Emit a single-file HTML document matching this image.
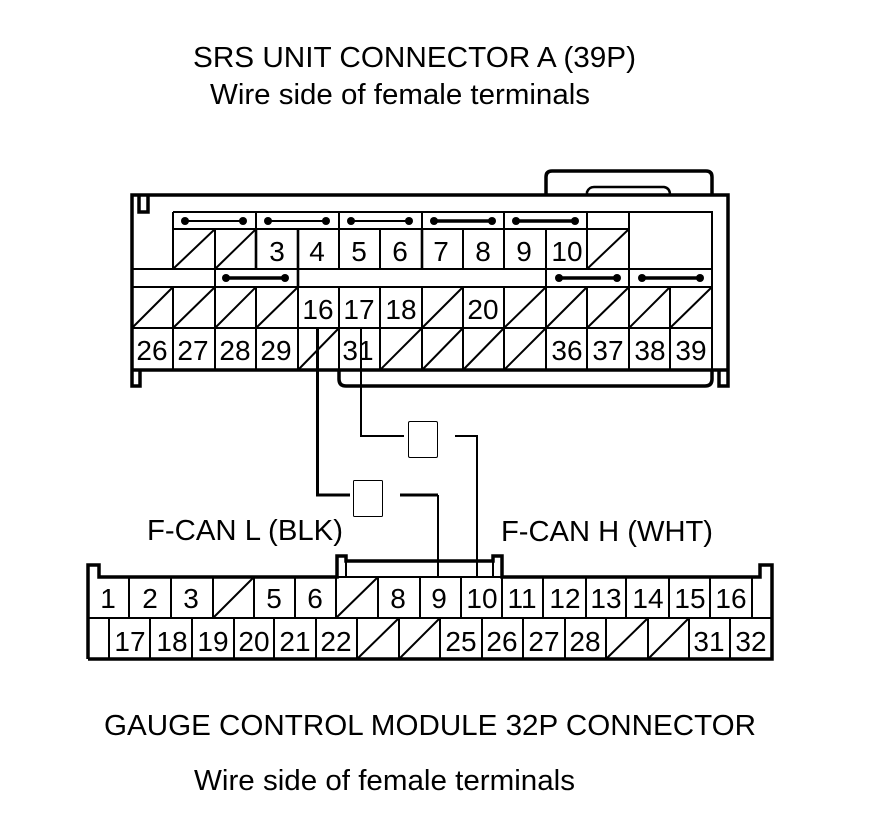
<!DOCTYPE html>
<html><head><meta charset="utf-8"><style>
html,body{margin:0;padding:0;background:#fff}
svg{display:block}
text{font-family:"Liberation Sans",Arial,sans-serif;fill:#000}
.n{font-size:28px;text-anchor:middle}
.t{font-size:29px}
.l{fill:none;stroke:#000;stroke-width:2}
.k{fill:none;stroke:#000;stroke-width:3.5}
.w{fill:none;stroke:#000;stroke-width:3}
.v{fill:none;stroke:#000;stroke-width:2}
.j{stroke:#000;stroke-width:2}
.jk{stroke:#000;stroke-width:3.5}
</style></head><body>
<svg width="880" height="838" viewBox="0 0 880 838" xmlns="http://www.w3.org/2000/svg">
<rect width="880" height="838" fill="#fff"/>
<text class="t" x="193" y="67" textLength="443" lengthAdjust="spacingAndGlyphs">SRS UNIT CONNECTOR A (39P)</text>
<text class="t" x="210" y="104" textLength="380" lengthAdjust="spacingAndGlyphs">Wire side of female terminals</text>
<text class="t" x="147" y="540" textLength="196" lengthAdjust="spacingAndGlyphs">F-CAN L (BLK)</text>
<text class="t" x="501" y="541" textLength="212" lengthAdjust="spacingAndGlyphs">F-CAN H (WHT)</text>
<text class="t" x="104" y="735" textLength="652" lengthAdjust="spacingAndGlyphs">GAUGE CONTROL MODULE 32P CONNECTOR</text>
<text class="t" x="194" y="790" textLength="381" lengthAdjust="spacingAndGlyphs">Wire side of female terminals</text>

<!-- SRS connector shell -->
<path class="k" d="M546 195V177Q546 171 552 171H706Q712 171 712 177V195"/>
<path class="l" d="M587 195V192Q589 187 594 187H664Q670 188 670 195" style="stroke-width:2.5"/>
<path class="k" d="M139 195H728V386H719V370M132 370V195H139V212H148V195M132 370V386H140V370M132 370H728"/>
<path class="k" d="M339 370V379Q339 386 346 386H705Q712 386 712 379V370"/>
<!-- SRS grid -->
<path class="l" d="M173 212H712V370M173 229H629M173 212V269M132 269H712M132 287H712M132 328H712
M256 212V269M339 212V269M422 212V269M504 212V269M587 212V269M629 212V269
M215 229V269M298 229V287M380 229V269M463 229V269M546 229V269
M215 269V287M546 269V287M629 269V287
M173 287V370M215 287V370M256 287V370M298 287V370M339 287V370M380 287V370M422 287V370M463 287V370M504 287V370M546 287V370M587 287V370M629 287V370M670 287V370"/>
<path class="l" d="M256 229V269M298 229V287M422 229V269" style="stroke-width:2.6"/>
<!-- SRS diagonals -->
<path class="l" d="M173 269L215 229M215 269L256 229M587 269L629 229
M132 328L173 287M173 328L215 287M215 328L256 287M256 328L298 287M422 328L463 287M504 328L546 287M546 328L587 287M587 328L629 287M629 328L670 287M670 328L712 287
M298 370L339 328M380 370L422 328M422 370L463 328M463 370L504 328M504 370L546 328"/>
<!-- SRS jumpers -->
<g class="j"><path d="M185 221H243M268 221H326M351 221H409"/></g>
<g class="jk"><path d="M434 221H492M516 221H575M226 278H285M559 278H617M642 278H700"/></g>
<g>
<circle cx="185" cy="221" r="4"/><circle cx="243" cy="221" r="4"/><circle cx="268" cy="221" r="4"/><circle cx="326" cy="221" r="4"/><circle cx="351" cy="221" r="4"/><circle cx="409" cy="221" r="4"/><circle cx="434" cy="221" r="4"/><circle cx="492" cy="221" r="4"/><circle cx="516" cy="221" r="4"/><circle cx="575" cy="221" r="4"/><circle cx="226" cy="278" r="4"/><circle cx="285" cy="278" r="4"/><circle cx="559" cy="278" r="4"/><circle cx="617" cy="278" r="4"/><circle cx="642" cy="278" r="4"/><circle cx="700" cy="278" r="4"/>
</g>
<!-- SRS labels -->
<g>
<text class="n" x="277" y="261">3</text><text class="n" x="317" y="261">4</text><text class="n" x="359" y="261">5</text><text class="n" x="400" y="261">6</text><text class="n" x="441" y="261">7</text><text class="n" x="483" y="261">8</text><text class="n" x="524" y="261">9</text><text class="n" x="567" y="261">10</text>
<text class="n" x="318" y="319">16</text><text class="n" x="359" y="319">17</text><text class="n" x="401" y="319">18</text><text class="n" x="483" y="319">20</text>
<text class="n" x="152" y="360">26</text><text class="n" x="193" y="360">27</text><text class="n" x="235" y="360">28</text><text class="n" x="276" y="360">29</text><text class="n" x="358" y="360">31</text><text class="n" x="567" y="360">36</text><text class="n" x="608" y="360">37</text><text class="n" x="650" y="360">38</text><text class="n" x="691" y="360">39</text>
</g>

<!-- Wires -->
<path class="w" d="M317.5 327V495H350M400 495H438"/>
<path class="v" d="M438 495V577"/>
<path class="v" d="M361 328V436H404M455 436H477V577"/>
<rect x="353.5" y="480.5" width="29" height="36" rx="1" fill="#fff" stroke="#000" stroke-width="1"/>
<rect x="408.5" y="421.5" width="29" height="36" rx="1.5" fill="#fff" stroke="#000" stroke-width="1"/>

<!-- Gauge connector shell -->
<path class="k" d="M88 659V565H99V577H337V556H346V561H493V556H502V577H760V565H772V659H88"/>
<path class="l" d="M88 618H772M337 577H502M346 561V577M493 561V577"/>
<path class="l" d="M129 577V618M171 577V618M213 577V618M254 577V618M295 577V618M336 577V618M378 577V618M420 577V618M461 577V618M502 577V618M543 577V618M586 577V618M626 577V618M669 577V618M710 577V618M752 577V618
M109 618V659M150 618V659M192 618V659M234 618V659M274 618V659M316 618V659M357 618V659M399 618V659M440 618V659M482 618V659M523 618V659M565 618V659M606 618V659M648 618V659M689 618V659M730 618V659"/>
<path class="l" d="M213 618L254 577M336 618L378 577M357 659L399 618M399 659L440 618M606 659L648 618M648 659L689 618"/>
<!-- Gauge labels -->
<g>
<text class="n" x="108" y="608">1</text><text class="n" x="150" y="608">2</text><text class="n" x="191" y="608">3</text><text class="n" x="274" y="608">5</text><text class="n" x="315" y="608">6</text><text class="n" x="398" y="608">8</text><text class="n" x="439" y="608">9</text><text class="n" x="482" y="608">10</text><text class="n" x="522" y="608">11</text><text class="n" x="565" y="608">12</text><text class="n" x="606" y="608">13</text><text class="n" x="648" y="608">14</text><text class="n" x="690" y="608">15</text><text class="n" x="731" y="608">16</text>
<text class="n" x="130" y="651">17</text><text class="n" x="172" y="651">18</text><text class="n" x="213" y="651">19</text><text class="n" x="254" y="651">20</text><text class="n" x="295" y="651">21</text><text class="n" x="336" y="651">22</text><text class="n" x="461" y="651">25</text><text class="n" x="502" y="651">26</text><text class="n" x="544" y="651">27</text><text class="n" x="585" y="651">28</text><text class="n" x="709" y="651">31</text><text class="n" x="751" y="651">32</text>
</g>
</svg>
</body></html>
